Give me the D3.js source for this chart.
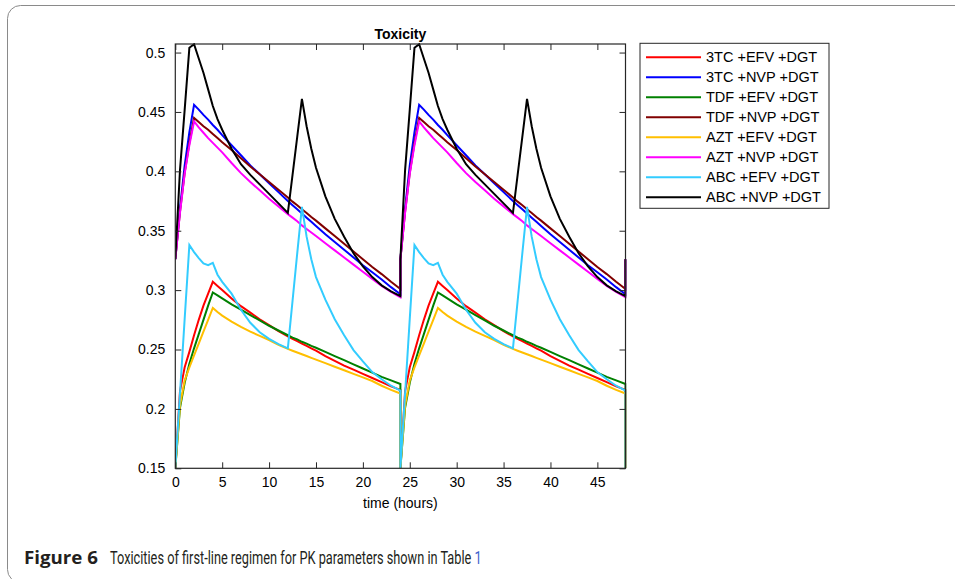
<!DOCTYPE html>
<html>
<head>
<meta charset="utf-8">
<script src="https://cdn.jsdelivr.net/npm/d3@7/dist/d3.min.js"></script>
<style>
  html, body { margin: 0; padding: 0; background: #fff; }
  svg { display: block; }
</style>
</head>
<body>
<svg id="chart" width="955" height="579"></svg>
<script>
// ---- data ----
// hours after the start of each 24 h dosing cycle
const hours = [0, 0.5, 1, 1.5, 2, 2.5, 3, 3.5, 4, 4.5, 5, 6, 7, 8, 9, 10, 11, 12,
  12.5, 13, 13.5, 14, 14.5, 15, 16, 17, 18, 19, 20, 21, 22, 23, 24];
const cycleStarts = [0, 24];
const endHour = 48;

const seriesNames = ["3TC +EFV +DGT", "3TC +NVP +DGT", "TDF +EFV +DGT", "TDF +NVP +DGT",
  "AZT +EFV +DGT", "AZT +NVP +DGT", "ABC +EFV +DGT", "ABC +NVP +DGT"];
const seriesColors = ["#ff0000", "#0000ff", "#008000", "#800000",
  "#ffbf00", "#ff00ff", "#33ccff", "#000000"];

const tc3Efv = [0.150, 0.215, 0.235, 0.248, 0.262, 0.275, 0.287, 0.297, 0.307, 0.3035, 0.300, 0.293, 0.2865, 0.281, 0.2755, 0.2705, 0.2655, 0.261,
  0.259, 0.257, 0.255, 0.253, 0.251, 0.249, 0.2445, 0.2405, 0.2365, 0.233, 0.2295, 0.226, 0.2225, 0.219, 0.216];
const tc3Nvp = [0.326, 0.369, 0.405, 0.433, 0.456, 0.452, 0.4475, 0.4435, 0.439, 0.435, 0.4305, 0.422, 0.4135, 0.405, 0.3975, 0.390, 0.3825, 0.375,
  0.3715, 0.368, 0.3645, 0.361, 0.3575, 0.354, 0.347, 0.3405, 0.334, 0.3275, 0.321, 0.315, 0.309, 0.3025, 0.2965];
const tdfEfv = [0.150, 0.201, 0.222, 0.238, 0.251, 0.263, 0.275, 0.287, 0.298, 0.2955, 0.293, 0.288, 0.2835, 0.279, 0.2745, 0.270, 0.266, 0.262,
  0.260, 0.2585, 0.2565, 0.255, 0.253, 0.2515, 0.248, 0.2445, 0.241, 0.2375, 0.234, 0.2305, 0.227, 0.224, 0.221];
const tdfNvp = [0.326, 0.366, 0.399, 0.424, 0.445, 0.4415, 0.438, 0.435, 0.4315, 0.428, 0.4245, 0.418, 0.411, 0.404, 0.3975, 0.391, 0.3845, 0.378,
  0.3745, 0.3715, 0.368, 0.365, 0.3615, 0.3585, 0.352, 0.3455, 0.339, 0.3325, 0.326, 0.3195, 0.3135, 0.307, 0.301];
const aztEfv = [0.150, 0.203, 0.224, 0.235, 0.245, 0.255, 0.265, 0.275, 0.285, 0.2815, 0.2785, 0.2735, 0.269, 0.265, 0.2615, 0.258, 0.254, 0.2505,
  0.249, 0.2475, 0.246, 0.2445, 0.243, 0.2415, 0.2385, 0.2355, 0.2325, 0.2295, 0.2265, 0.2235, 0.2195, 0.216, 0.213];
const aztNvp = [0.326, 0.365, 0.398, 0.422, 0.442, 0.437, 0.4325, 0.428, 0.424, 0.420, 0.416, 0.407, 0.3985, 0.391, 0.384, 0.377, 0.3705, 0.364,
  0.361, 0.358, 0.3545, 0.3515, 0.3485, 0.3455, 0.3395, 0.3335, 0.3275, 0.3215, 0.3155, 0.3095, 0.3035, 0.2985, 0.294];
const abcEfv = [0.150, 0.213, 0.276, 0.338, 0.332, 0.327, 0.3225, 0.321, 0.323, 0.313, 0.307, 0.297, 0.2835, 0.2725, 0.2645, 0.259, 0.2545, 0.251,
  0.291, 0.331, 0.370, 0.345, 0.326, 0.311, 0.292, 0.2755, 0.262, 0.2495, 0.240, 0.231, 0.225, 0.2195, 0.2155];
const abcNvp = [0.326, 0.401, 0.452, 0.504, 0.507, 0.495, 0.483, 0.469, 0.455, 0.444, 0.435, 0.419, 0.406, 0.397, 0.389, 0.381, 0.373, 0.365,
  0.397, 0.429, 0.461, 0.438, 0.419, 0.403, 0.379, 0.360, 0.345, 0.331, 0.320, 0.311, 0.304, 0.299, 0.295];

const seriesValues = [tc3Efv, tc3Nvp, tdfEfv, tdfNvp, aztEfv, aztNvp, abcEfv, abcNvp];

const xTicks = [0, 5, 10, 15, 20, 25, 30, 35, 40, 45];
const yTicks = [0.15, 0.2, 0.25, 0.3, 0.35, 0.4, 0.45, 0.5];
const titleText = "Toxicity";
const xLabelText = "time (hours)";
const captionBold = "Figure 6";
const captionText = "Toxicities of first-line regimen for PK parameters shown in Table ";
const captionLink = "1";

// ---- layout ----
const svg = d3.select("#chart");
const plot = { left: 175.3, right: 625.5, top: 44, bottom: 468.3 };
const x = d3.scaleLinear().domain([0, 48]).range([plot.left, plot.right]);
const y = d3.scaleLinear().domain([0.15, 0.5072]).range([plot.bottom, plot.top]);
const axisColor = "#262626";
const tickFont = "'Liberation Sans', Arial, sans-serif";

// card frame
svg.append("rect")
  .attr("x", 7.5).attr("y", 5.5).attr("width", 970).attr("height", 577)
  .attr("rx", 13).attr("ry", 13)
  .attr("fill", "none").attr("stroke", "#8a8a8a").attr("stroke-width", 1);

// white plot background
svg.append("rect")
  .attr("x", plot.left).attr("y", plot.top)
  .attr("width", plot.right - plot.left).attr("height", plot.bottom - plot.top)
  .attr("fill", "#fff");

svg.append("clipPath").attr("id", "clip")
  .append("rect")
  .attr("x", plot.left).attr("y", plot.top - 1)
  .attr("width", plot.right - plot.left + 1).attr("height", plot.bottom - plot.top + 1);

// lines
const line = d3.line().x(d => x(d[0])).y(d => y(d[1]));
const gLines = svg.append("g").attr("clip-path", "url(#clip)");
seriesValues.forEach((vals, i) => {
  const pts = [];
  cycleStarts.forEach(start => {
    hours.forEach((h, j) => pts.push([start + h, vals[j]]));
  });
  pts.push([endHour, vals[0]]);
  gLines.append("path")
    .datum(pts)
    .attr("d", line)
    .attr("fill", "none")
    .attr("stroke", seriesColors[i])
    .attr("stroke-width", 2)
    .attr("stroke-linejoin", "miter");
});

// axes (ticks pointing inward, box on)
const tickLen = 6;
const xBottom = d3.axisBottom(x).tickValues(xTicks).tickSizeInner(-tickLen).tickSizeOuter(0).tickPadding(9);
const xTop = d3.axisTop(x).tickValues(xTicks).tickSizeInner(-tickLen).tickSizeOuter(0).tickFormat("");
const yLeft = d3.axisLeft(y).tickValues(yTicks).tickSizeInner(-tickLen).tickSizeOuter(0).tickPadding(10)
  .tickFormat(d3.format(""));
const yRight = d3.axisRight(y).tickValues(yTicks).tickSizeInner(-tickLen).tickSizeOuter(0).tickFormat("");

function styleAxis(g) {
  g.select(".domain").remove();
  g.selectAll(".tick line").attr("stroke", axisColor);
  g.selectAll(".tick text").attr("fill", "#000").style("font-family", tickFont).style("font-size", "14px");
}
svg.append("g").attr("transform", `translate(0,${plot.bottom})`).call(xBottom).call(styleAxis);
svg.append("g").attr("transform", `translate(0,${plot.top})`).call(xTop).call(styleAxis);
svg.append("g").attr("transform", `translate(${plot.left},0)`).call(yLeft).call(styleAxis);
svg.append("g").attr("transform", `translate(${plot.right},0)`).call(yRight).call(styleAxis);

// box
svg.append("rect")
  .attr("x", plot.left).attr("y", plot.top)
  .attr("width", plot.right - plot.left).attr("height", plot.bottom - plot.top)
  .attr("fill", "none").attr("stroke", axisColor).attr("stroke-width", 1.2);

// title and axis label
svg.append("text")
  .attr("x", (plot.left + plot.right) / 2).attr("y", 39)
  .attr("text-anchor", "middle")
  .style("font-family", tickFont).style("font-size", "14px").style("font-weight", "bold")
  .text(titleText);
svg.append("text")
  .attr("x", (plot.left + plot.right) / 2).attr("y", 508)
  .attr("text-anchor", "middle")
  .style("font-family", tickFont).style("font-size", "14px")
  .text(xLabelText);

// legend
const legend = { x: 640, y: 43.3, w: 189, h: 165, row: 20, first: 57.3 };
svg.append("rect")
  .attr("x", legend.x).attr("y", legend.y).attr("width", legend.w).attr("height", legend.h)
  .attr("fill", "#fff").attr("stroke", axisColor).attr("stroke-width", 1);
seriesNames.forEach((name, i) => {
  const ly = legend.first + i * legend.row;
  svg.append("line")
    .attr("x1", 646).attr("x2", 701).attr("y1", ly).attr("y2", ly)
    .attr("stroke", seriesColors[i]).attr("stroke-width", 2);
  svg.append("text")
    .attr("x", 706).attr("y", ly + 5)
    .style("font-family", tickFont).style("font-size", "14.5px")
    .text(name);
});

// caption (condensed horizontally with a scale transform to match the narrow journal face)
const capFont = "'Liberation Sans Narrow', 'Roboto', 'Noto Sans', sans-serif";
function fitText(sel, left, baseline, width) {
  const natural = sel.node().getComputedTextLength();
  const s = natural > 0 ? width / natural : 1;
  sel.attr("x", 0).attr("y", 0)
    .attr("transform", `translate(${left},${baseline}) scale(${s},1)`);
}
const capBold = svg.append("text")
  .style("font-family", "'Open Sans', 'Noto Sans', sans-serif").style("font-size", "18px").style("font-weight", "bold")
  .attr("fill", "#231f20")
  .text(captionBold);
fitText(capBold, 24, 564, 74);
const capText = svg.append("text")
  .style("font-family", capFont).style("font-size", "19px")
  .attr("fill", "#231f20");
capText.append("tspan").text(captionText);
capText.append("tspan").attr("fill", "#3a5fcd").text(captionLink);
fitText(capText, 110, 564, 372);
</script>
</body>
</html>
